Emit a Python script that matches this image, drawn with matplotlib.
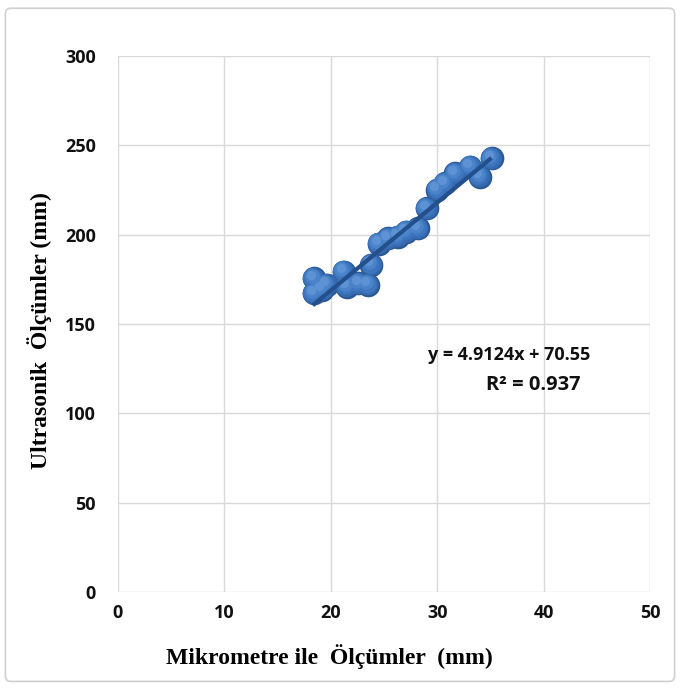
import numpy as np
import matplotlib.pyplot as plt
import matplotlib.transforms as mtransforms
from matplotlib.patches import FancyBboxPatch

# readings (x: micrometre, y: ultrasonic)
mikrometre = [18.4, 18.4, 19.2, 19.6, 21.2, 21.5, 22.6, 23.5, 23.8, 24.5,
              25.4, 26.3, 27.1, 28.2, 29.0, 30.0, 30.7, 31.7, 33.1, 34.0, 35.1]
ultrasonik = [175.5, 167.2, 169.0, 171.8, 179.2, 170.8, 172.7, 171.8, 183.0, 195.0,
              197.9, 198.8, 201.6, 203.5, 214.7, 225.0, 228.7, 234.3, 238.0, 232.4, 242.7]

slope, intercept = 4.9124, 70.55
r2 = 0.937

x_ticks = [0, 10, 20, 30, 40, 50]
y_ticks = [0, 50, 100, 150, 200, 250, 300]

SANS = "Open Sans"

fig = plt.figure(figsize=(6.8, 6.89), dpi=100)
fig.patch.set_facecolor("white")

# light rounded frame around the chart
frame = FancyBboxPatch((0.008, 0.011), 0.984, 0.977,
                       boxstyle="round,pad=0,rounding_size=0.008",
                       transform=fig.transFigure, facecolor="none",
                       edgecolor="#d0d0d0", linewidth=1.2, zorder=-1)
fig.patches.append(frame)

ax = fig.add_axes([0.1735, 0.1408, 0.7825, 0.7779])
ax.set_xlim(0, 50)
ax.set_ylim(0, 300)
ax.set_xticks(x_ticks)
ax.set_yticks(y_ticks)
ax.grid(True, color="#d9d9d9", linewidth=1.0)
ax.set_axisbelow(True)
for s in ax.spines.values():
    s.set_visible(False)
ax.tick_params(axis="x", length=0, pad=9)
ax.tick_params(axis="y", length=0, pad=16)
for lab in ax.get_xticklabels() + ax.get_yticklabels():
    lab.set_fontfamily(SANS)
    lab.set_fontweight("bold")
    lab.set_fontsize(13)
    lab.set_color("#111111")

# sphere-like markers: stacked circles getting lighter toward the highlight
x = np.array(mikrometre)
y = np.array(ultrasonik)
ax.scatter(x, y, s=290, color="#2c5994", zorder=3, linewidths=0)
layers = [(240, "#356aae", 0.5, 0.5), (180, "#3d76be", 1.0, 1.1),
          (110, "#4a83c9", 1.6, 1.9), (45, "#5d93d4", 2.1, 2.7)]
for size, col, dx, dy in layers:
    tr = mtransforms.offset_copy(ax.transData, fig=fig, x=-dx, y=dy, units="points")
    ax.scatter(x, y, s=size, color=col, zorder=3, linewidths=0, transform=tr)

# linear trendline
xl = np.array([x.min() - 0.1, x.max()])
ax.plot(xl, slope * xl + intercept, color="#23508c", linewidth=3, zorder=4,
        solid_capstyle="butt")

ax.text(36.8, 132.6, f"y = {slope}x + {intercept}", ha="center", va="center",
        fontfamily=SANS, fontweight="bold", fontsize=13, color="#111111")
ax.text(39.0, 115.8, f"R² = {r2}", ha="center", va="center",
        fontfamily=SANS, fontweight="bold", fontsize=14.5, color="#111111")

ax.set_xlabel("Mikrometre ile  Ölçümler  (mm)", fontfamily="Liberation Serif",
              fontweight="bold", fontsize=17, va="center")
ax.xaxis.set_label_coords(0.397, -0.121)
ax.set_ylabel("Ultrasonik  Ölçümler (mm)", fontfamily="Liberation Serif",
              fontweight="bold", fontsize=17, va="center")
ax.yaxis.set_label_coords(-0.147, 0.487)

fig.savefig("out.png", dpi=100, facecolor="white")
